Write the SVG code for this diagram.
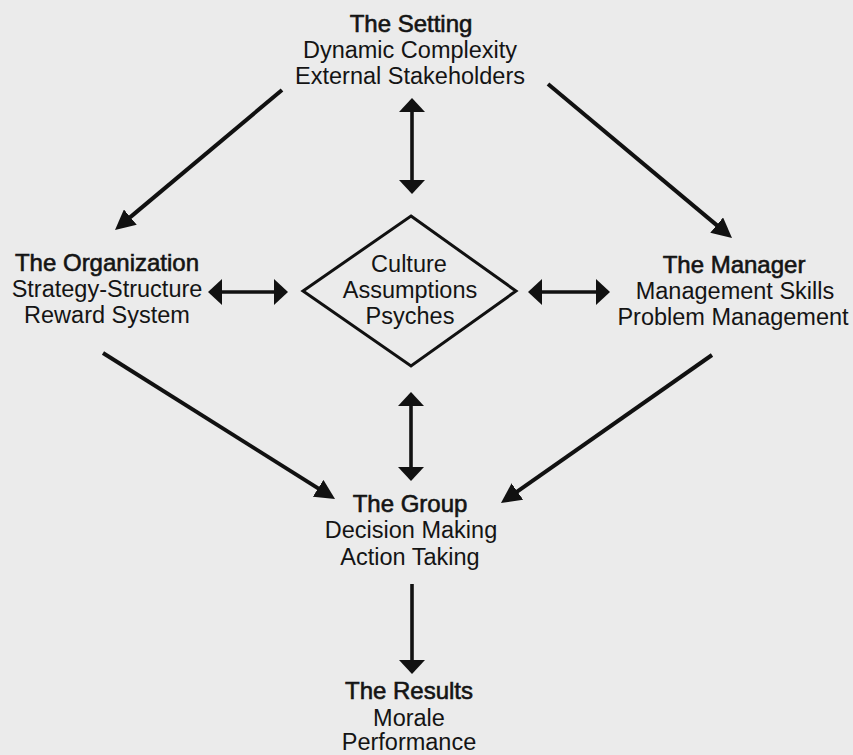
<svg xmlns="http://www.w3.org/2000/svg" width="853" height="755" viewBox="0 0 853 755">
  <style>
    text { font-family: "Liberation Sans", Arial, Helvetica, sans-serif; fill: #141414; text-anchor: middle; }
    .t { font-size: 24px; stroke: #141414; stroke-width: 0.6; }
    .b { font-size: 23.5px; }
    .con { stroke: #111; fill: none; }
    .diag { stroke-width: 4; marker-end: url(#headD); }
    .dbl { stroke-width: 3.6; marker-start: url(#headS); marker-end: url(#headS); }
    .single { stroke-width: 3.6; marker-end: url(#headS); }
  </style>
  <defs>
    <marker id="headD" viewBox="0 0 20 20" markerUnits="userSpaceOnUse" markerWidth="20" markerHeight="20" refX="2" refY="10" orient="auto">
      <path d="M0,0 L20,10 L0,20 Z" fill="#111"/>
    </marker>
    <marker id="headS" viewBox="0 0 14 26" markerUnits="userSpaceOnUse" markerWidth="14" markerHeight="26" refX="2" refY="13" orient="auto-start-reverse">
      <path d="M0,0 L14,13 L0,26 Z" fill="#111"/>
    </marker>
  </defs>
  <rect x="0" y="0" width="853" height="755" fill="#ebebeb"/>

  <g id="connectors">
    <line class="con diag" x1="282" y1="90" x2="128.8" y2="218.4"/>
    <line class="con diag" x1="548" y1="84" x2="718.2" y2="226.4"/>
    <line class="con diag" x1="103" y1="353" x2="319.8" y2="489.4"/>
    <line class="con diag" x1="712" y1="355" x2="515.7" y2="492.7"/>
    <line class="con dbl" x1="412" y1="110" x2="412" y2="182"/>
    <line class="con dbl" x1="411" y1="404" x2="411" y2="469"/>
    <line class="con dbl" x1="220" y1="292" x2="276" y2="292"/>
    <line class="con dbl" x1="540" y1="292" x2="598" y2="292"/>
    <line class="con single" x1="412" y1="584" x2="412" y2="662"/>
  </g>

  <g id="setting">
    <text class="t" x="411" y="32">The Setting</text>
    <text class="b" x="410" y="58">Dynamic Complexity</text>
    <text class="b" x="410" y="84">External Stakeholders</text>
  </g>

  <g id="organization">
    <text class="t" x="107" y="271">The Organization</text>
    <text class="b" x="107" y="297">Strategy-Structure</text>
    <text class="b" x="107" y="323">Reward System</text>
  </g>

  <g id="culture">
    <polygon points="411,216 516,291 411,366 303,291" fill="none" stroke="#111" stroke-width="3" stroke-linejoin="miter"/>
    <text class="b" x="409" y="272">Culture</text>
    <text class="b" x="410" y="298">Assumptions</text>
    <text class="b" x="410" y="324">Psyches</text>
  </g>

  <g id="manager">
    <text class="t" x="734" y="273">The Manager</text>
    <text class="b" x="735" y="299">Management Skills</text>
    <text class="b" x="733" y="325">Problem Management</text>
  </g>

  <g id="group">
    <text class="t" x="410" y="512">The Group</text>
    <text class="b" x="411" y="538">Decision Making</text>
    <text class="b" x="410" y="565">Action Taking</text>
  </g>

  <g id="results">
    <text class="t" x="409" y="699">The Results</text>
    <text class="b" x="409" y="726">Morale</text>
    <text class="b" x="409" y="750">Performance</text>
  </g>
</svg>
